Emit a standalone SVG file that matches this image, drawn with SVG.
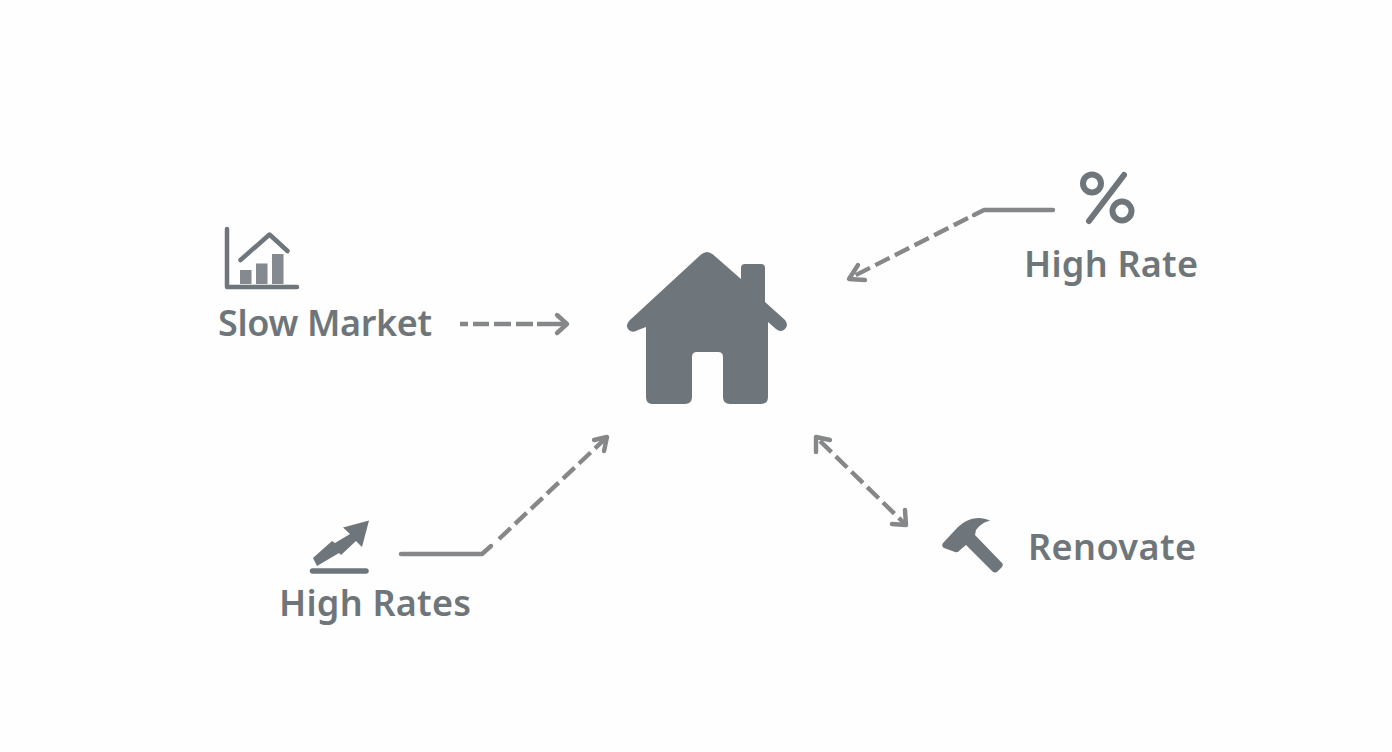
<svg xmlns="http://www.w3.org/2000/svg" width="1392" height="752" viewBox="0 0 1392 752">
<style>
.t{font-family:"Noto Sans","Open Sans",sans-serif;font-weight:600;font-size:36px;fill:#6f767a}
.i{fill:#6f767b}
.s{fill:none;stroke:#6f767b;stroke-linecap:round;stroke-linejoin:round}
.c{fill:none;stroke:#858789;stroke-width:4.400;stroke-linecap:round;stroke-linejoin:round}
.d{stroke-dasharray:16 6;stroke-linecap:butt}
</style>
<rect width="1392" height="752" fill="#fefefe"/>
<g id="connectors">
<path class="c" stroke-dasharray="8 5 16 5 17 5 17 4 200" style="stroke-linecap:butt" d="M460 324H566"/><path class="c" d="M557 315L567 324L557 333"/>
<path class="c" d="M1053 210H984L974 215"/><path class="c d" d="M968 218L852 277"/><path class="c" d="M858 265L849 279L865 280"/>
<path class="c" d="M401 554H482L491 546"/><path class="c d" d="M499 539L606 438"/><path class="c" d="M594 440L607 437L604 451"/>
<path class="c d" d="M820 441L904 523"/><path class="c" d="M816 452L816 437L830 440"/><path class="c" d="M892 524L906 525L905 510"/>
</g>
<g id="house">
<path class="i" fill-rule="evenodd" d="M701 254.500Q707 249.500 713 254.500L741 279V268Q741 264 745 264H761Q765 264 765 268V302L785 320Q789 325 785 329Q781 333 776 329L768 322V397Q768 404 761 404H730Q723 404 723 397V357Q723 352 718 352H697Q692 352 692 357V397Q692 404 685 404H652Q646 404 646 397V327L638 330Q632 334 628 329Q625 325 630 320Z"/>
</g>
<g id="slow-market">
<path class="s" stroke-width="4.500" d="M227 229V287H297"/>
<path class="s" stroke-width="4.500" d="M240.500 260L269.500 234.500L287.500 251"/>
<rect class="i" x="240" y="270" width="11.500" height="14" opacity=".85"/>
<rect class="i" x="256" y="263.500" width="11.500" height="20.500" opacity=".85"/>
<rect class="i" x="272" y="254" width="11.500" height="30" opacity=".85"/>
<text class="t" x="218" y="336" textLength="214">Slow Market</text>
</g>
<g id="high-rate">
<circle class="s" cx="1092" cy="183.500" r="9" stroke-width="6"/>
<circle class="s" cx="1122" cy="211" r="9.500" stroke-width="6"/>
<path class="s" stroke-width="6" d="M1124 175L1089 221"/>
<text class="t" x="1024" y="277" textLength="174">High Rate</text>
</g>
<g id="high-rates">
<path class="i" d="M369 520.500L343 527.500L350 534L335 543L332 541L313 558L317 566L339 553L341 555L356 541L362 547Z"/>
<path class="s" stroke-width="5.500" d="M312.500 571H366"/>
<text class="t" x="279" y="616" textLength="192">High Rates</text>
</g>
<g id="renovate">
<path class="i" d="M990 520.500C979 515.500 968 518 958 527L943 543Q941 546 944 548L955 552Q958 553 960 550L966 545L992 571Q995 574 998 571L1002 567Q1004 564 1001 562L975 535L976 530C980 525 984 522 990 520.500Z"/>
<text class="t" x="1028" y="560" textLength="168">Renovate</text>
</g>
</svg>
